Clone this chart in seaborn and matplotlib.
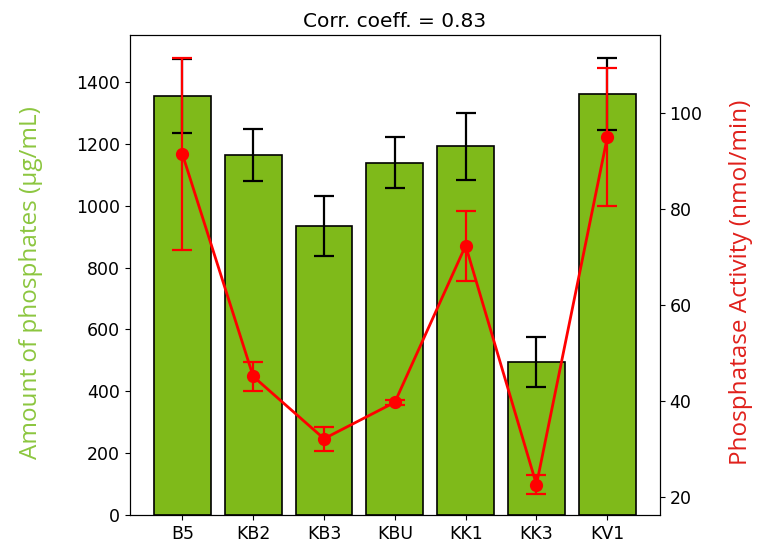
import matplotlib
matplotlib.use("Agg")
import matplotlib.pyplot as plt
import seaborn as sns
import numpy as np

strains = ["B5", "KB2", "KB3", "KBU", "KK1", "KK3", "KV1"]
phosphate = [1355, 1165, 935, 1140, 1192, 494, 1362]
phosphate_err = [120, 85, 98, 82, 108, 80, 117]
activity = [91.5, 45.1, 32.1, 39.7, 72.4, 22.5, 95.0]
activity_err = [20.0, 3.0, 2.5, 0.5, 7.3, 2.0, 14.4]

bar_green = "#7fba1a"
label_green = "#8cc63f"

fig = plt.figure(figsize=(7.6, 5.42), dpi=100)
ax = fig.add_axes([0.171, 0.05, 0.697, 0.885])

sns.barplot(x=strains, y=phosphate, color=bar_green, edgecolor="black",
            linewidth=1.2, saturation=1, width=0.8, ax=ax)
ax.errorbar(np.arange(len(strains)), phosphate, yerr=phosphate_err,
            fmt="none", ecolor="black", elinewidth=1.6, capsize=7, capthick=1.6)
ax.set_xlim(-0.74, 6.74)
ax.set_ylim(0, 1552)
ax.set_ylabel("Amount of phosphates (µg/mL)", color=label_green,
              fontsize=17.5, family="Open Sans")
ax.yaxis.set_label_coords(-0.165, 0.485)
ax.tick_params(labelsize=12.5)

ax2 = ax.twinx()
ax2.errorbar(np.arange(len(strains)), activity, yerr=activity_err,
             color="red", marker="o", markersize=8.5, linewidth=2,
             elinewidth=1.6, capsize=7, capthick=1.6)
ax2.set_ylim(16.2, 116.3)
ax2.set_yticks([20, 40, 60, 80, 100])
ax2.set_ylabel("Phosphatase Activity (nmol/min)", color="#e0201b",
               fontsize=17.5, family="Open Sans")
ax2.yaxis.set_label_coords(1.13, 0.485)
ax2.tick_params(labelsize=12.5)

ax.set_title("Corr. coeff. = 0.83", fontsize=14.5)

fig.savefig("out.png", dpi=100)
